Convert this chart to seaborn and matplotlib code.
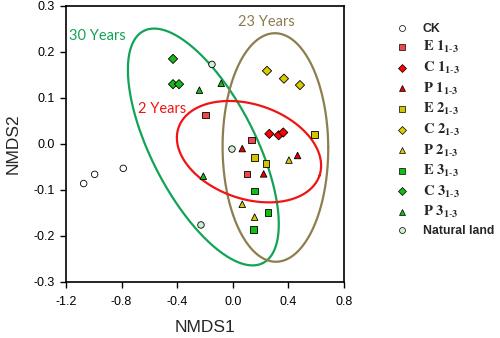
import numpy as np
import pandas as pd
import matplotlib
matplotlib.use("Agg")
import matplotlib.pyplot as plt
import seaborn as sns
from matplotlib.ticker import FormatStrFormatter

# ---------------- data ----------------
groups = ["CK", "E1", "C1", "P1", "E2", "C2", "P2", "E3", "C3", "P3", "Natural land"]
labels = ["CK",
          r"$\mathbf{E\ 1_{1\text{-}3}}$", r"$\mathbf{C\ 1_{1\text{-}3}}$", r"$\mathbf{P\ 1_{1\text{-}3}}$",
          r"$\mathbf{E\ 2_{1\text{-}3}}$", r"$\mathbf{C\ 2_{1\text{-}3}}$", r"$\mathbf{P\ 2_{1\text{-}3}}$",
          r"$\mathbf{E\ 3_{1\text{-}3}}$", r"$\mathbf{C\ 3_{1\text{-}3}}$", r"$\mathbf{P\ 3_{1\text{-}3}}$",
          "Natural land"]

ck_x = [-1.073, -0.994, -0.788];  ck_y = [-0.086, -0.066, -0.053]
e1_x = [-0.198, 0.133, 0.102];    e1_y = [0.063, 0.009, -0.065]
c1_x = [0.263, 0.330, 0.363];     c1_y = [0.022, 0.019, 0.025]
p1_x = [0.068, 0.466, 0.222];     p1_y = [-0.010, -0.025, -0.065]
e2_x = [0.586, 0.157, 0.239];     e2_y = [0.021, -0.029, -0.042]
c2_x = [0.246, 0.368, 0.483];     c2_y = [0.159, 0.142, 0.128]
p2_x = [0.404, 0.068, 0.157];     p2_y = [-0.035, -0.131, -0.159]
e3_x = [0.155, 0.253, 0.150];     e3_y = [-0.102, -0.149, -0.186]
c3_x = [-0.430, -0.430, -0.387];  c3_y = [0.185, 0.130, 0.130]
p3_x = [-0.240, -0.083, -0.212];  p3_y = [0.117, 0.132, -0.070]
nl_x = [-0.150, -0.006, -0.229];  nl_y = [0.173, -0.011, -0.176]

xs = [ck_x, e1_x, c1_x, p1_x, e2_x, c2_x, p2_x, e3_x, c3_x, p3_x, nl_x]
ys = [ck_y, e1_y, c1_y, p1_y, e2_y, c2_y, p2_y, e3_y, c3_y, p3_y, nl_y]

# ellipses: name, center (data), semi-axes (fraction of axes box), angle (display deg)
ell_names = ["30 Years", "23 Years", "2 Years"]
ell_cx = [-0.212, 0.3065, 0.1165]
ell_cy = [-0.0065, -0.0076, -0.0167]
ell_a = [0.472, 0.190, 0.268]
ell_b = [0.187, 0.414, 0.171]
ell_ang = [-63.0, 0.3, -19.0]
ell_text_x = [-0.975, 0.241, -0.507]
ell_text_y = [0.235, 0.265, 0.076]

# ---------------- styling ----------------
palette = {"CK": "white", "E1": "#F04848", "C1": "#FF0000", "P1": "#E60000",
           "E2": "#D2C400", "C2": "#D8CC00", "P2": "#D8CC00",
           "E3": "#10C010", "C3": "#18B818", "P3": "#18B818",
           "Natural land": "#CCF2D2"}
markers = {"CK": "o", "E1": "s", "C1": "D", "P1": "^", "E2": "s", "C2": "D", "P2": "^",
           "E3": "s", "C3": "D", "P3": "^", "Natural land": "o"}
ell_colors = ["#12A455", "#8C7E4E", "#F01414"]

sns.set_style("ticks")
plt.rcParams["font.family"] = ["Liberation Sans", "DejaVu Sans"]
plt.rcParams["mathtext.fontset"] = "stix"

df = pd.DataFrame({
    "x": np.concatenate(xs),
    "y": np.concatenate(ys),
    "group": np.repeat(groups, [len(v) for v in xs]),
})

fig = plt.figure(figsize=(5.0, 3.38), dpi=100)
ax = fig.add_axes([0.132, 0.1657, 0.556, 0.8166])

xmin, xmax, ymin, ymax = -1.2, 0.8, -0.3, 0.3
ax.set_xlim(xmin, xmax)
ax.set_ylim(ymin, ymax)

t = np.linspace(0, 2 * np.pi, 300)
for name, cx, cy, a, b, ang, col, tx, ty in zip(ell_names, ell_cx, ell_cy, ell_a, ell_b,
                                                 ell_ang, ell_colors, ell_text_x, ell_text_y):
    phi = np.radians(ang)
    u = a * np.cos(t) * np.cos(phi) - b * np.sin(t) * np.sin(phi)
    v = a * np.cos(t) * np.sin(phi) + b * np.sin(t) * np.cos(phi)
    ax.plot(cx + u * (xmax - xmin), cy + v * (ymax - ymin), color=col, lw=1.6, zorder=1)
    ax.text(tx, ty, name, color=col, fontsize=10.5, ha="center", va="center",
            family=["Lato", "DejaVu Sans"], zorder=3)

sns.scatterplot(data=df, x="x", y="y", hue="group", style="group",
                hue_order=groups, style_order=groups,
                palette=palette, markers=markers, s=22,
                edgecolor="black", linewidth=0.6, ax=ax, zorder=4, legend="full")

ax.set_xlim(xmin, xmax)
ax.set_ylim(ymin, ymax)
ax.set_xticks(np.arange(-1.2, 0.81, 0.4))
ax.set_yticks(np.arange(-0.3, 0.31, 0.1))
ax.xaxis.set_major_formatter(FormatStrFormatter("%.1f"))
ax.yaxis.set_major_formatter(FormatStrFormatter("%.1f"))
ax.tick_params(direction="out", length=4, width=1.0, labelsize=9, colors="black")
ax.tick_params(axis="x", pad=6)
ax.tick_params(axis="y", pad=4)
for s in ax.spines.values():
    s.set_visible(True)
    s.set_linewidth(1.2)
    s.set_color("black")
ax.set_xlabel("NMDS1", fontsize=12.5, labelpad=9)
ax.set_ylabel("NMDS2", fontsize=12.5, labelpad=9)

handles, _ = ax.get_legend_handles_labels()
ax.get_legend().remove()
for h in handles:
    h.set_markeredgecolor("black")
    h.set_markeredgewidth(0.5)
    h.set_markersize(4.3)
leg = fig.legend(handles, labels, loc="upper left", bbox_to_anchor=(0.781, 0.947),
                 frameon=False, fontsize=8.8, handlelength=1.0, handletextpad=1.25,
                 labelspacing=0.37, borderaxespad=0)
for txt, lab in zip(leg.get_texts(), labels):
    txt.set_fontweight("bold")
    if lab.startswith("$"):
        txt.set_fontsize(10.5)

fig.savefig("out.png", dpi=100)
